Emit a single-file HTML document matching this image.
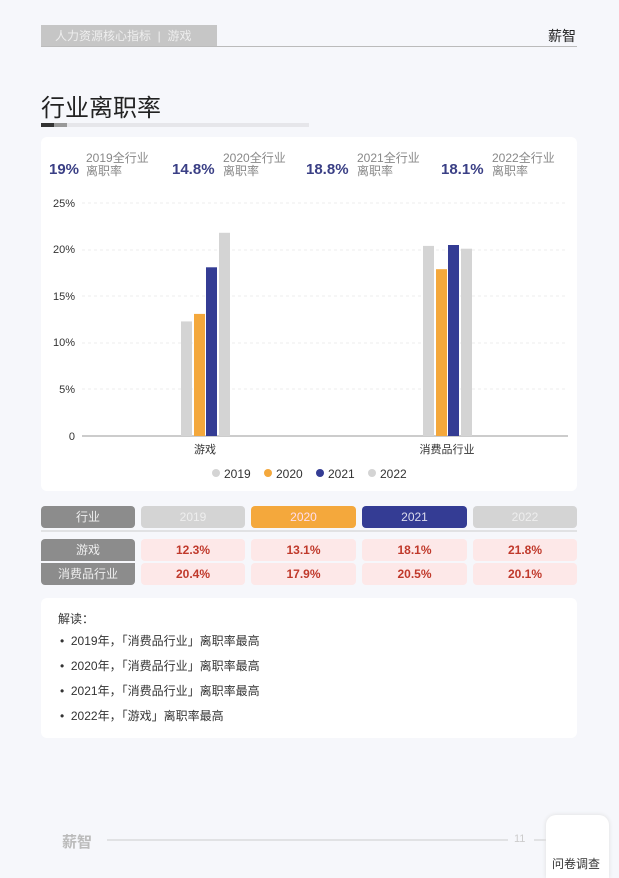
<!DOCTYPE html>
<html><head><meta charset="utf-8"><style>
*{margin:0;padding:0;box-sizing:border-box}
body{width:619px;height:878px;background:#f6f7fb;font-family:"Liberation Sans","Noto Sans CJK SC",sans-serif;position:relative;overflow:hidden}
.abs{position:absolute}
.hdr{left:41px;top:25px;width:176px;height:22px;background:#c6c6c6;color:#eee;font-size:12px;line-height:22px;padding-left:14px}
.cell{position:absolute;height:22px;border-radius:4px;text-align:center;line-height:22px;font-size:12px}
.v{background:#fde8e8;color:#c0392b;font-weight:bold}
.li{position:absolute;left:60px;font-size:12px;color:#333}
</style></head><body>
<div class="abs hdr">人力资源核心指标 &nbsp;| &nbsp;游戏</div>
<div class="abs" style="left:41px;top:46px;width:536px;height:1px;background:#bbb"></div>
<div class="abs" style="left:548px;top:26px;font-size:14px;color:#222">薪智</div>
<div class="abs" style="left:41px;top:88px;font-size:24px;color:#222">行业离职率</div>
<div class="abs" style="left:41px;top:123px;width:268px;height:4px;background:#e6e6ea"></div>
<div class="abs" style="left:41px;top:123px;width:13px;height:4px;background:#333"></div>
<div class="abs" style="left:54px;top:123px;width:13px;height:4px;background:#999"></div>

<div class="abs" style="left:41px;top:137px;width:536px;height:354px;background:#fff;border-radius:6px"></div>
<div class="abs" style="left:49px;top:161px;font-size:15px;font-weight:bold;color:#3a3f85">19%</div>
<div class="abs" style="left:86px;top:152px;font-size:12px;line-height:13px;color:#888">2019全行业<br>离职率</div>
<div class="abs" style="left:172px;top:161px;font-size:15px;font-weight:bold;color:#3a3f85">14.8%</div>
<div class="abs" style="left:223px;top:152px;font-size:12px;line-height:13px;color:#888">2020全行业<br>离职率</div>
<div class="abs" style="left:306px;top:161px;font-size:15px;font-weight:bold;color:#3a3f85">18.8%</div>
<div class="abs" style="left:357px;top:152px;font-size:12px;line-height:13px;color:#888">2021全行业<br>离职率</div>
<div class="abs" style="left:441px;top:161px;font-size:15px;font-weight:bold;color:#3a3f85">18.1%</div>
<div class="abs" style="left:492px;top:152px;font-size:12px;line-height:13px;color:#888">2022全行业<br>离职率</div>

<svg class="abs" style="left:0;top:0" width="619" height="878">
<g font-size="11" fill="#333" font-family="Liberation Sans,sans-serif" text-anchor="end">
<text x="75" y="207">25%</text><text x="75" y="253">20%</text><text x="75" y="300">15%</text><text x="75" y="346">10%</text><text x="75" y="393">5%</text><text x="75" y="440">0</text>
</g>
<g stroke="#eee" stroke-dasharray="3,3"><line x1="82" x2="568" y1="203" y2="203"/><line x1="82" x2="568" y1="250" y2="250"/><line x1="82" x2="568" y1="296" y2="296"/><line x1="82" x2="568" y1="343" y2="343"/><line x1="82" x2="568" y1="389" y2="389"/></g>
<line x1="82" x2="568" y1="436" y2="436" stroke="#999"/>
<rect x="181" y="321.4" width="11" height="114.6" fill="#d4d4d4"/>
<rect x="194" y="313.9" width="11" height="122.1" fill="#f4a83c"/>
<rect x="206" y="267.3" width="11" height="168.7" fill="#343c94"/>
<rect x="219" y="232.8" width="11" height="203.2" fill="#d4d4d4"/>
<rect x="423" y="245.9" width="11" height="190.1" fill="#d4d4d4"/>
<rect x="436" y="269.2" width="11" height="166.8" fill="#f4a83c"/>
<rect x="448" y="245" width="11" height="191" fill="#343c94"/>
<rect x="461" y="248.7" width="11" height="187.3" fill="#d4d4d4"/>
<g font-size="11" fill="#333" text-anchor="middle" font-family="Liberation Sans,Noto Sans CJK SC,sans-serif"><text x="205" y="453">游戏</text><text x="447" y="453">消费品行业</text></g>
<g font-size="12" fill="#333" font-family="Liberation Sans,sans-serif">
<circle cx="216" cy="473" r="4" fill="#d4d4d4"/><text x="224" y="478">2019</text>
<circle cx="268" cy="473" r="4" fill="#f4a83c"/><text x="276" y="478">2020</text>
<circle cx="320" cy="473" r="4" fill="#343c94"/><text x="328" y="478">2021</text>
<circle cx="372" cy="473" r="4" fill="#d4d4d4"/><text x="380" y="478">2022</text>
</g>
<line x1="41" x2="577" y1="531" y2="531" stroke="#ccc"/>
<line x1="107" x2="508" y1="840" y2="840" stroke="#ccc"/>
<line x1="534" x2="548" y1="840" y2="840" stroke="#ccc"/>
</svg>

<div class="cell" style="left:41px;top:506px;width:94px;background:#8c8c8c;color:#eee">行业</div>
<div class="cell" style="left:141px;top:506px;width:104px;background:#d4d4d4;color:#eee">2019</div>
<div class="cell" style="left:251px;top:506px;width:105px;background:#f4a83c;color:#fde">2020</div>
<div class="cell" style="left:362px;top:506px;width:105px;background:#343c94;color:#dde">2021</div>
<div class="cell" style="left:473px;top:506px;width:104px;background:#d4d4d4;color:#eee">2022</div>
<div class="cell" style="left:41px;top:539px;width:94px;background:#8c8c8c;color:#eee;border-radius:4px 4px 0 0">游戏</div>
<div class="cell" style="left:41px;top:563px;width:94px;background:#8c8c8c;color:#eee;border-radius:0 0 4px 4px">消费品行业</div>
<div class="cell v" style="left:141px;top:539px;width:104px">12.3%</div>
<div class="cell v" style="left:251px;top:539px;width:105px">13.1%</div>
<div class="cell v" style="left:362px;top:539px;width:105px">18.1%</div>
<div class="cell v" style="left:473px;top:539px;width:104px">21.8%</div>
<div class="cell v" style="left:141px;top:563px;width:104px">20.4%</div>
<div class="cell v" style="left:251px;top:563px;width:105px">17.9%</div>
<div class="cell v" style="left:362px;top:563px;width:105px">20.5%</div>
<div class="cell v" style="left:473px;top:563px;width:104px">20.1%</div>

<div class="abs" style="left:41px;top:598px;width:536px;height:140px;background:#fff;border-radius:6px"></div>
<div class="abs" style="left:58px;top:610px;font-size:12px;color:#333">解读：</div>
<div class="li" style="top:632px">•&nbsp; 2019年，「消费品行业」离职率最高</div>
<div class="li" style="top:657px">•&nbsp; 2020年，「消费品行业」离职率最高</div>
<div class="li" style="top:682px">•&nbsp; 2021年，「消费品行业」离职率最高</div>
<div class="li" style="top:707px">•&nbsp; 2022年，「游戏」离职率最高</div>

<div class="abs" style="left:62px;top:831px;font-size:15px;font-weight:bold;color:#bbb">薪智</div>
<div class="abs" style="left:514px;top:833px;font-size:11px;color:#ccc">11</div>
<div class="abs" style="left:546px;top:815px;width:63px;height:63px;background:#fff;border-radius:10px 10px 0 0;box-shadow:0 0 4px #ddd"></div>
<div class="abs" style="left:552px;top:855px;font-size:12px;color:#333">问卷调查</div>
</body></html>
